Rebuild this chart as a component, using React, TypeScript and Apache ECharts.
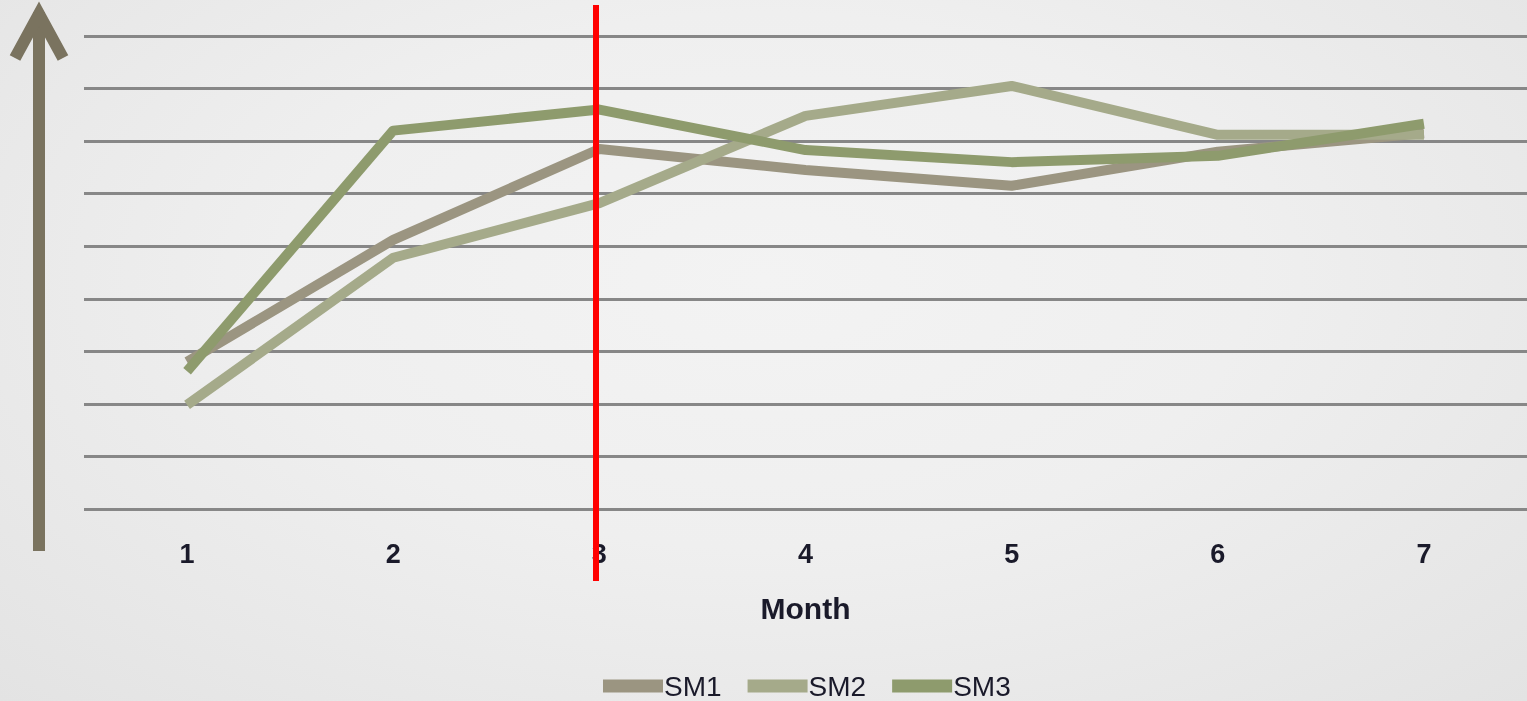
import React, { useEffect, useRef } from "react";
import * as echarts from "echarts";

const months = ["1", "2", "3", "4", "5", "6", "7"];
const sm1 = [2.8, 5.12, 6.85, 6.45, 6.15, 6.8, 7.15];
const sm2 = [1.98, 4.78, 5.82, 7.48, 8.05, 7.12, 7.12];
const sm3 = [2.62, 7.2, 7.6, 6.83, 6.6, 6.72, 7.33];
const seriesNames = ["SM1", "SM2", "SM3"];
const seriesColors = ["#9b9581", "#a5aa8a", "#8e9b6d"];

export default function App() {
  const ref = useRef<HTMLDivElement>(null);
  useEffect(() => {
    if (!ref.current) return;
    const chart = echarts.init(ref.current, null, { renderer: "svg" });
    const datasets = [sm1, sm2, sm3];
    chart.setOption({
      animation: false,
      backgroundColor: "transparent",
      textStyle: { fontFamily: "Liberation Sans" },
      grid: { left: 84, width: 1449, top: 36, height: 473, containLabel: false },
      legend: {
        left: 598,
        top: 667,
        itemWidth: 60,
        itemHeight: 13,
        itemGap: 26,
        icon: "rect",
        textStyle: { fontSize: 28, color: "#1a1a2a", padding: [0, 0, 0, -4] },
        data: seriesNames,
      },
      xAxis: {
        type: "category",
        data: months,
        boundaryGap: true,
        axisLine: { show: false },
        axisTick: { show: false },
        axisLabel: { margin: 31, fontSize: 27, fontWeight: "bold", color: "#1a1a2a" },
        name: "Month",
        nameLocation: "middle",
        nameGap: 84,
        nameTextStyle: { fontSize: 30, fontWeight: "bold", color: "#1a1a2a" },
      },
      yAxis: {
        type: "value",
        min: 0,
        max: 9,
        interval: 1,
        axisLabel: { show: false },
        axisLine: { show: false },
        axisTick: { show: false },
        splitLine: { lineStyle: { color: "#878787", width: 3 } },
      },
      series: datasets.map((d, i) => ({
        name: seriesNames[i],
        type: "line",
        data: d,
        symbol: "none",
        color: seriesColors[i],
        lineStyle: { width: 10, color: seriesColors[i], join: "round" },
      })),
      graphic: [
        {
          type: "line",
          shape: { x1: 39, y1: 12, x2: 39, y2: 551 },
          style: { stroke: "#7a735f", lineWidth: 12 },
        },
        {
          type: "polyline",
          shape: { points: [[15, 58], [39, 14], [63, 58]] },
          style: { stroke: "#7a735f", lineWidth: 12, fill: "none", lineJoin: "miter" },
        },
        {
          type: "rect",
          shape: { x: 593, y: 5, width: 6, height: 576 },
          style: { fill: "#ff0000" },
          z: 100,
        },
      ],
    });
    return () => chart.dispose();
  }, []);
  return (
    <div
      style={{
        position: "fixed",
        left: 0,
        top: 0,
        width: 1527,
        height: 701,
        background: "radial-gradient(ellipse at 50% 40%, #f3f3f3 0%, #efefef 45%, #e3e3e3 100%)",
      }}
    >
      <div ref={ref} style={{ width: 1527, height: 701 }} />
    </div>
  );
}
